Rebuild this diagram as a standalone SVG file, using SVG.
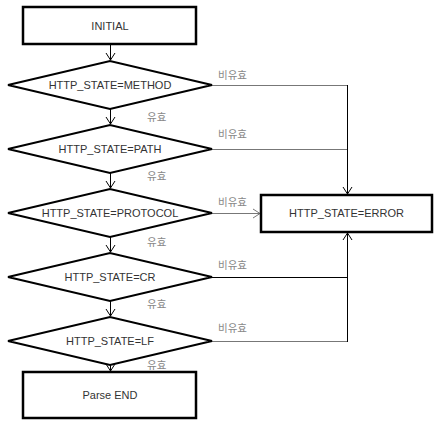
<svg xmlns="http://www.w3.org/2000/svg" width="435" height="424" viewBox="0 0 435 424">
  <style>
    .box { fill: #fff; stroke: #000; stroke-width: 2.5; }
    .dia { fill: #fff; stroke: #000; stroke-width: 2; }
    .lbl { font-family: "Liberation Sans", Arial, sans-serif; font-size: 11px; fill: #333; text-anchor: middle; }
    .kr { font-family: "Noto Sans CJK KR", "Noto Sans", sans-serif; font-size: 10.5px; fill: #888; }
    .flow { stroke: #000; stroke-width: 1; fill: none; }
    .side { stroke: #777; stroke-width: 1; fill: none; }
  </style>
  <defs>
    <marker id="vee" viewBox="-8 -6 10 12" markerWidth="10" markerHeight="12" refX="0" refY="0" orient="auto" markerUnits="userSpaceOnUse">
      <path d="M-7,-4.5 L0,0 L-7,4.5" fill="none" stroke="#000" stroke-width="1"/>
    </marker>
    <marker id="vee-g" viewBox="-8 -6 10 12" markerWidth="10" markerHeight="12" refX="0" refY="0" orient="auto" markerUnits="userSpaceOnUse">
      <path d="M-7,-4.5 L0,0 L-7,4.5" fill="none" stroke="#777" stroke-width="1"/>
    </marker>
  </defs>

  <g id="connectors">
    <!-- main vertical flow -->
    <line class="flow" x1="110.5" y1="45" x2="110.5" y2="60" marker-end="url(#vee)"/>
    <line class="flow" x1="110.5" y1="109" x2="110.5" y2="124" marker-end="url(#vee)"/>
    <line class="flow" x1="110.5" y1="173" x2="110.5" y2="188" marker-end="url(#vee)"/>
    <line class="flow" x1="110.5" y1="237" x2="110.5" y2="252" marker-end="url(#vee)"/>
    <line class="flow" x1="110.5" y1="301" x2="110.5" y2="316" marker-end="url(#vee)"/>
    <line class="flow" x1="110.5" y1="365" x2="110.5" y2="371" marker-end="url(#vee)"/>
    <!-- invalid branches to the error state -->
    <line class="side" x1="212" y1="85.5" x2="347.5" y2="85.5"/>
    <line class="side" x1="212" y1="149.5" x2="347.5" y2="149.5"/>
    <line class="flow" x1="347.5" y1="85" x2="347.5" y2="194" marker-end="url(#vee)"/>
    <line class="side" x1="212" y1="213.5" x2="260" y2="213.5" marker-end="url(#vee-g)"/>
    <line class="flow" x1="212" y1="277.5" x2="347.5" y2="277.5"/>
    <line class="side" x1="212" y1="341.5" x2="347.5" y2="341.5"/>
    <line class="flow" x1="347.5" y1="342" x2="347.5" y2="233" marker-end="url(#vee)"/>
    <!-- edge labels -->
    <text class="kr" x="147" y="121">유효</text>
    <text class="kr" x="147" y="180">유효</text>
    <text class="kr" x="147" y="246">유효</text>
    <text class="kr" x="147" y="308">유효</text>
    <text class="kr" x="147" y="369">유효</text>
    <text class="kr" x="218" y="79">비유효</text>
    <text class="kr" x="218" y="138">비유효</text>
    <text class="kr" x="218" y="206">비유효</text>
    <text class="kr" x="218" y="269">비유효</text>
    <text class="kr" x="218" y="332">비유효</text>
  </g>

  <g id="initial">
    <rect class="box" x="23" y="7" width="173" height="37"/>
    <text class="lbl" x="110" y="30">INITIAL</text>
  </g>
  <g id="check-method">
    <polygon class="dia" points="8,85 110,61 212,85 110,109"/>
    <text class="lbl" x="110" y="89">HTTP_STATE=METHOD</text>
  </g>
  <g id="check-path">
    <polygon class="dia" points="8,149 110,125 212,149 110,173"/>
    <text class="lbl" x="110" y="153">HTTP_STATE=PATH</text>
  </g>
  <g id="check-protocol">
    <polygon class="dia" points="8,213 110,189 212,213 110,237"/>
    <text class="lbl" x="110" y="217">HTTP_STATE=PROTOCOL</text>
  </g>
  <g id="check-cr">
    <polygon class="dia" points="8,277 110,253 212,277 110,301"/>
    <text class="lbl" x="110" y="281">HTTP_STATE=CR</text>
  </g>
  <g id="check-lf">
    <polygon class="dia" points="8,341 110,317 212,341 110,365"/>
    <text class="lbl" x="110" y="345">HTTP_STATE=LF</text>
  </g>
  <g id="parse-end">
    <rect class="box" x="23" y="372" width="173" height="46"/>
    <text class="lbl" x="110" y="399">Parse END</text>
  </g>
  <g id="error">
    <rect class="box" x="261" y="195" width="171" height="37"/>
    <text class="lbl" x="346.5" y="217">HTTP_STATE=ERROR</text>
  </g>
</svg>
